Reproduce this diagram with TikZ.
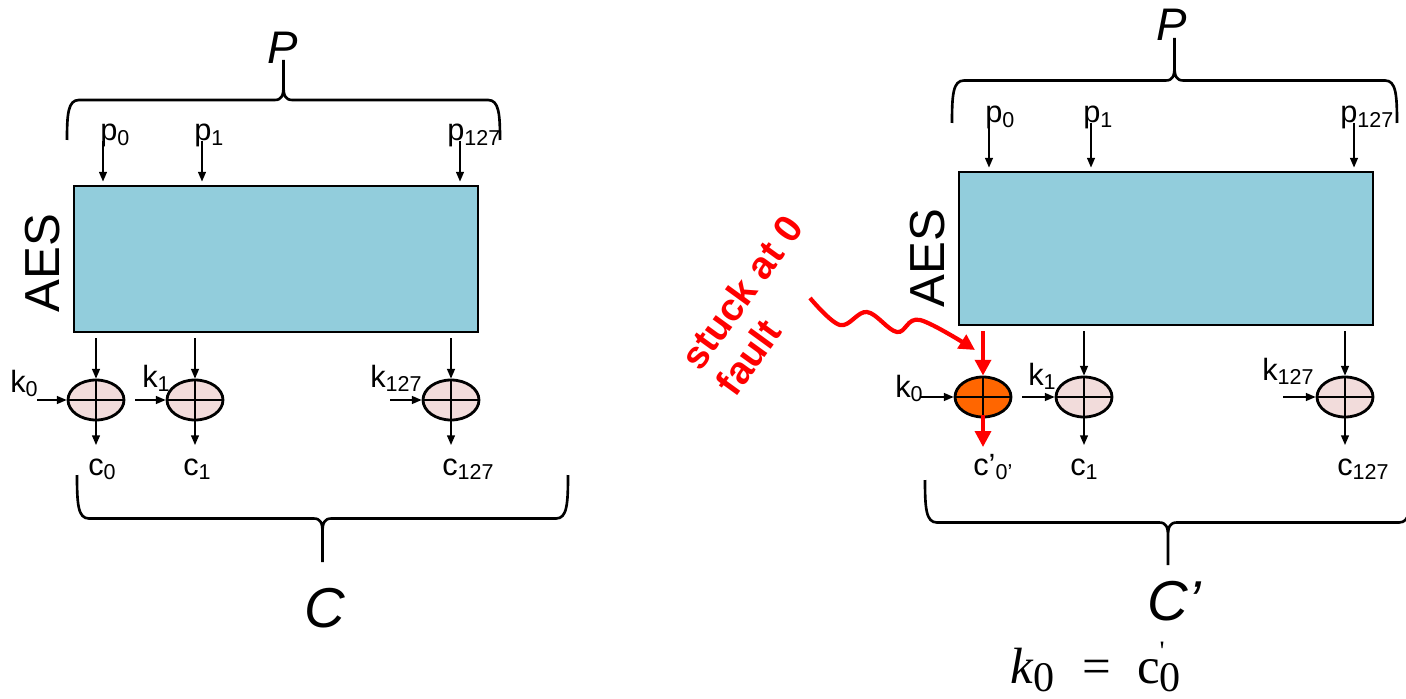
\documentclass[tikz,border=0pt]{standalone}
\usepackage{fontspec}
\setmainfont{Liberation Sans}
\newfontfamily\timesfont{Liberation Serif}
\usetikzlibrary{arrows.meta,calc,shapes.geometric}
\definecolor{aesblue}{HTML}{92CDDC}
\definecolor{xorpink}{HTML}{F2DCDB}
\definecolor{faultorange}{HTML}{FF6600}
\definecolor{faultred}{HTML}{FF0000}
% flat curly brace: left x, right x, end y, tip y
\newcommand{\curlybrace}[4]{%
  \pgfmathsetmacro{\bm}{(#1+#2)/2}%
  \pgfmathsetmacro{\bh}{(#3+#4)/2}%
  \pgfmathsetmacro{\bd}{(#4-#3)/abs(#4-#3)}%
  \pgfmathsetmacro{\be}{\bh-14*\bd}%
  \pgfmathsetmacro{\bq}{\bh+4*\bd}%
  \pgfmathsetmacro{\bs}{\bh+14*\bd}%
  \draw[line width=1.5pt] (#1,#3) .. controls (#1,\be) and (#1+1,\bh) .. (#1+12,\bh)
    -- (\bm-9,\bh) .. controls (\bm-2,\bh) and (\bm,\bq) .. (\bm,\bs) -- (\bm,#4)
    (\bm,\bs) .. controls (\bm,\bq) and (\bm+2,\bh) .. (\bm+9,\bh)
    -- (#2-12,\bh) .. controls (#2-1,\bh) and (#2,\be) .. (#2,#3);}

\begin{document}
\begin{tikzpicture}[x=0.02cm,y=-0.02cm,>={Triangle[length=5.5pt,width=4.5pt]},
  lab/.style={font=\fontsize{17.5}{20}\selectfont, inner sep=0pt, anchor=base west},
  big/.style={font=\fontsize{#1}{#1}\selectfont\itshape, inner sep=0pt},
  aesbox/.style={draw, line width=1.1pt, fill=aesblue, minimum width=#1, inner sep=0pt},
  xor/.style={ellipse, draw, line width=1.6pt, fill=xorpink, minimum width=1.12cm, minimum height=0.8cm, inner sep=0pt,
    path picture={\draw[line width=1.1pt] (path picture bounding box.north) -- (path picture bounding box.south)
      (path picture bounding box.west) -- (path picture bounding box.east);}},
  wire/.style={->, line width=0.8pt},
  hot/.style={-{Triangle[length=9pt,width=9pt]}, line width=2.4pt, faultred}]
\useasboundingbox (0,0) rectangle (1406,699);

% left: fault-free AES
\node[big=26] (PL) at (283,48) {P};
\curlybrace{67}{500}{140}{60}
\node[aesbox=8.08cm, minimum height=2.92cm] (aesL) at (276,259) {};
\node[rotate=90, font=\fontsize{28}{28}\selectfont] (tL) at (43,263) {AES};
\foreach \i/\lx/\ax in {0/100/103,1/194/202,127/447/460}{
  \node[lab] (pL\i) at (\lx,141) {p\textsubscript{\i}};
  \coordinate (inL\i) at (\ax,141);
  \draw[wire, shorten >=2pt] (inL\i) -- (inL\i |- aesL.north);
}
\foreach \i/\x/\cx in {0/96/88,1/195/183,127/451/442}{
  \node[xor] (xL\i) at (\x,400) {};
  \draw[wire, shorten <=3pt] (aesL.south -| xL\i) -- (xL\i.north);
  \coordinate (oL\i) at (\x,445);
  \draw[wire] (xL\i.south) -- (oL\i);
  \node[lab] (cL\i) at (\cx,475) {c\textsubscript{\i}};
}
\foreach \i/\lx/\ly/\ax in {0/10/392/37,1/142/387/135,127/370/387/390}{
  \node[lab] (kL\i) at (\lx,\ly) {k\textsubscript{\i}};
  \coordinate (keyL\i) at (\ax,400);
  \draw[wire] (keyL\i) -- (xL\i.west);
}
\curlybrace{77}{568}{475}{562}
\node[big=32] (CL) at (325,608) {C};

% right: stuck-at-0 fault on bit 0
\node[big=26] (PR) at (1172,25) {P};
\curlybrace{952}{1397}{123}{38}
\node[aesbox=8.28cm, minimum height=3.06cm] (aesR) at (1166,248.5) {};
\node[rotate=90, font=\fontsize{28}{28}\selectfont] (tR) at (928,258) {AES};
\foreach \i/\lx/\ax in {0/985/989,1/1083/1091,127/1340/1354}{
  \node[lab] (pR\i) at (\lx,123) {p\textsubscript{\i}};
  \coordinate (inR\i) at (\ax,123);
  \draw[wire, shorten >=2pt] (inR\i) -- (inR\i |- aesR.north);
}
\node[xor, fill=faultorange] (xR0) at (983,397) {};
\foreach \i/\x in {1/1084,127/1345}{
  \node[xor] (xR\i) at (\x,397) {};
  \draw[wire, shorten <=3pt] (aesR.south -| xR\i) -- (xR\i.north);
  \coordinate (oR\i) at (\x,445);
  \draw[wire] (xR\i.south) -- (oR\i);
}
\coordinate (oR0) at (983,447);
\draw[hot, shorten <=3pt] (aesR.south -| xR0) -- (xR0.north);
\draw[hot, line width=2pt] ([yshift=2pt]xR0.south) -- (oR0);
\foreach \i/\lx/\ly/\ax in {0/895/397/921,1/1028/385/1022,127/1262/380/1283}{
  \node[lab] (kR\i) at (\lx,\ly) {k\textsubscript{\i}};
  \coordinate (keyR\i) at (\ax,397);
  \draw[wire] (keyR\i) -- (xR\i.west);
}
\node[lab] (cR0) at (973,475) {c’\textsubscript{0’}};
\node[lab] (cR1) at (1070,475) {c\textsubscript{1}};
\node[lab] (cR127) at (1337,475) {c\textsubscript{127}};
\curlybrace{925}{1411}{480}{565}
\node[big=32] (CR) at (1174,601) {C’};

\node[rotate=54, text=faultred, font=\bfseries\fontsize{22}{25}\selectfont, align=left, inner sep=0pt] (fault) at (759,305) {stuck at 0\\fault};
\coordinate (hit) at (810,298);
\draw[hot] plot[smooth, tension=0.6] coordinates {(hit) (840,325) (867,312) (897,332) (920,320) (975,350)};

\node[font=\timesfont\fontsize{29}{29}\selectfont, inner sep=0pt, anchor=base west] (eq) at (1010,683)
  {\textit{k}\raisebox{-0.17em}{\fontsize{24}{24}\selectfont 0}\hspace{0.55em}=\hspace{0.5em}c\rlap{\raisebox{0.45em}{\fontsize{16}{16}\selectfont\textquotesingle}}\raisebox{-0.17em}{\fontsize{24}{24}\selectfont 0}};
\end{tikzpicture}
\end{document}
